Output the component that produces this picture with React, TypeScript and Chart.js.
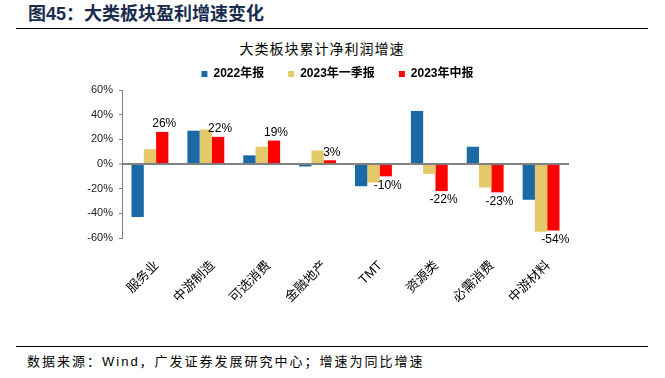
import React, { useEffect, useRef } from "react";
import { Chart, registerables } from "chart.js";

Chart.register(...registerables);

const categories = ["服务业", "中游制造", "可选消费", "金融地产", "TMT", "资源类", "必需消费", "中游材料"];
const seriesNames = ["2022年报", "2023年一季报", "2023年中报"];
const report2022 = [-43, 27, 7, -2, -18, 43, 14, -29];
const q1Report2023 = [12, 28, 14, 11, -15, -8, -19, -55];
const h1Report2023 = [26, 22, 19, 3, -10, -22, -23, -54];
const yTickValues = [-60, -40, -20, 0, 20, 40, 60];

const seriesColors = ["#1B6AA5", "#E5C86A", "#FF0000"];
const FONT = "'Liberation Sans', Arial, 'Noto Sans CJK SC', sans-serif";

const redLabelPlugin = {
  id: "redLabels",
  afterDatasetsDraw(chart: any) {
    const ctx = chart.ctx;
    const meta = chart.getDatasetMeta(2);
    ctx.save();
    ctx.font = `12px ${FONT}`;
    ctx.fillStyle = "#000";
    ctx.textAlign = "center";
    ctx.textBaseline = "middle";
    meta.data.forEach((bar: any, i: number) => {
      const v = h1Report2023[i];
      const y = v >= 0 ? bar.y - 8 : bar.y + 9;
      ctx.fillText(`${v}%`, bar.x + 2, y);
    });
    ctx.restore();
  },
};

export default function App() {
  const canvasRef = useRef<HTMLCanvasElement | null>(null);

  useEffect(() => {
    if (!canvasRef.current) return;
    const chart = new Chart(canvasRef.current, {
      type: "bar",
      data: {
        labels: categories,
        datasets: [
          { label: seriesNames[0], data: report2022, backgroundColor: seriesColors[0] },
          { label: seriesNames[1], data: q1Report2023, backgroundColor: seriesColors[1] },
          { label: seriesNames[2], data: h1Report2023, backgroundColor: seriesColors[2] },
        ],
      },
      options: {
        responsive: false,
        animation: false,
        devicePixelRatio: 1,
        layout: { padding: { left: 10, right: 0, top: 0, bottom: 0 } },
        datasets: { bar: { categoryPercentage: 0.66, barPercentage: 1 } },
        plugins: {
          tooltip: { enabled: false },
          title: { display: false },
          legend: {
            display: true,
            position: "top",
            labels: {
              boxWidth: 6,
              boxHeight: 6,
              padding: 24,
              color: "#000",
              font: { size: 12, weight: "bold", family: FONT },
            },
          },
        },
        scales: {
          x: {
            grid: { display: false },
            border: { display: false },
            ticks: {
              autoSkip: false,
              maxRotation: 45,
              minRotation: 45,
              padding: 12,
              labelOffset: 7,
              color: "#000",
              font: { size: 13, family: FONT },
            },
            afterFit: (s: any) => {
              s.height = 102;
            },
          },
          y: {
            min: -60,
            max: 60,
            afterBuildTicks: (s: any) => {
              s.ticks = yTickValues.map((v) => ({ value: v }));
            },
            ticks: {
              padding: 6,
              color: "#222",
              font: { size: 11, family: FONT },
              callback: (v: any) => `${v}%`,
            },
            grid: {
              drawTicks: true,
              tickLength: 3,
              tickWidth: 1,
              tickColor: "#808080",
              color: (c: any) => (c.tick && c.tick.value === 0 ? "#808080" : "rgba(0,0,0,0)"),
              lineWidth: (c: any) => (c.tick && c.tick.value === 0 ? 2 : 1),
            },
            border: { display: true, color: "#808080", width: 1 },
            afterFit: (s: any) => {
              s.width = 112;
            },
          },
          spacer: {
            type: "linear",
            position: "right",
            min: -60,
            max: 60,
            display: true,
            grid: { display: false, drawTicks: false },
            border: { display: false },
            ticks: { display: false },
            afterFit: (s: any) => {
              s.width = 96;
            },
          },
        },
      },
      plugins: [redLabelPlugin],
    } as any);
    return () => chart.destroy();
  }, []);

  return (
    <div
      style={{
        position: "fixed",
        left: 0,
        top: 0,
        width: 665,
        height: 378,
        background: "#fff",
        overflow: "hidden",
        fontFamily: FONT,
      }}
    >
      <div
        style={{
          position: "absolute",
          left: 28,
          top: 3,
          fontSize: 18,
          fontWeight: "bold",
          color: "#1a2c4e",
          lineHeight: "22px",
          whiteSpace: "nowrap",
        }}
      >
        图45：大类板块盈利增速变化
      </div>
      <div style={{ position: "absolute", left: 16, top: 27.5, width: 632, height: 1.5, background: "#000" }} />
      <div
        style={{
          position: "absolute",
          left: 0,
          width: 644,
          top: 38,
          textAlign: "center",
          fontSize: 14,
          lineHeight: "20px",
          letterSpacing: 1,
          color: "#000",
          fontFamily: "'Noto Sans CJK SC', sans-serif",
          whiteSpace: "nowrap",
        }}
      >
        大类板块累计净利润增速
      </div>
      <canvas
        ref={canvasRef}
        width={665}
        height={296}
        style={{ position: "absolute", left: 0, top: 44, width: 665, height: 296 }}
      />
      <div style={{ position: "absolute", left: 16, top: 345.5, width: 632, height: 1.5, background: "#000" }} />
      <div
        style={{
          position: "absolute",
          left: 27,
          top: 352,
          fontSize: 13,
          lineHeight: "20px",
          letterSpacing: 2,
          color: "#000",
          whiteSpace: "nowrap",
        }}
      >
        数据来源：Wind，广发证券发展研究中心；增速为同比增速
      </div>
    </div>
  );
}
